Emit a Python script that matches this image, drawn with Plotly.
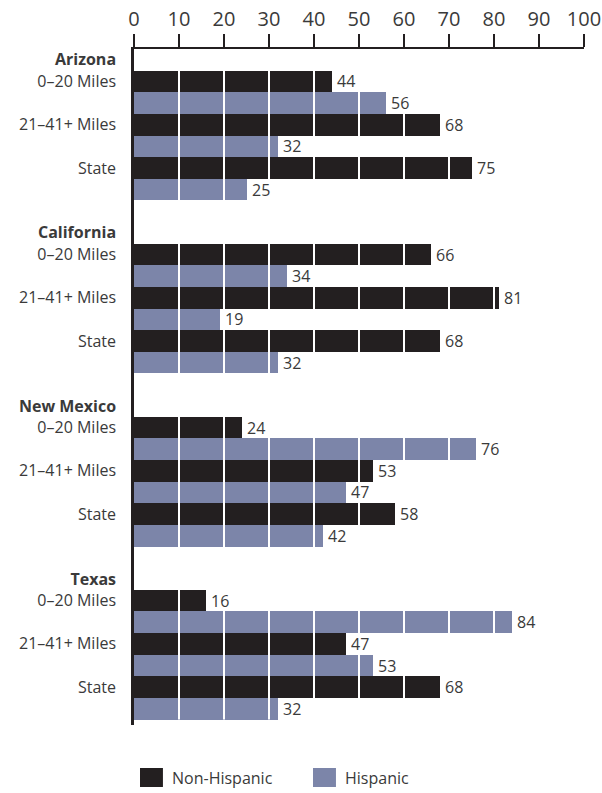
import plotly.graph_objects as go

# Survey shares (%) by state and distance from the border
states = ["Arizona", "California", "New Mexico", "Texas"]
rows = ["0–20 Miles", "21–41+ Miles", "State"]
non_hispanic = [44, 68, 75, 66, 81, 68, 24, 53, 58, 16, 47, 68]
hispanic = [56, 32, 25, 34, 19, 32, 76, 47, 42, 84, 53, 32]
x_ticks = [0, 10, 20, 30, 40, 50, 60, 70, 80, 90, 100]

NH_COLOR = "#231f20"
H_COLOR = "#7c85a9"
TEXT = "#3a3a3a"
FONT = "Open Sans"

# y positions: one slot for each state header, two bars per row, one blank slot between states
nh_pos, h_pos, tickvals, ticktext = [], [], [], []
for g, st in enumerate(states):
    base = 8 * g
    tickvals.append(base)
    ticktext.append(f"<b>{st}</b>")
    for r, lab in enumerate(rows):
        nh_pos.append(base + 1 + 2 * r)
        h_pos.append(base + 2 + 2 * r)
        tickvals.append(base + 1 + 2 * r)
        ticktext.append(lab)

fig = go.Figure()
fig.add_trace(go.Bar(x=non_hispanic, y=nh_pos, orientation="h", width=1,
                     marker=dict(color=NH_COLOR, line=dict(width=0)),
                     name="Non-Hispanic", showlegend=False, hoverinfo="x"))
fig.add_trace(go.Bar(x=hispanic, y=h_pos, orientation="h", width=1,
                     marker=dict(color=H_COLOR, line=dict(width=0)),
                     name="Hispanic", showlegend=False, hoverinfo="x"))

# white grid lines drawn over the bars
shapes = []
for t in x_ticks[1:-1]:
    shapes.append(dict(type="line", xref="x", yref="y", x0=t, x1=t,
                       y0=0.5, y1=30.5, layer="above",
                       line=dict(color="white", width=2)))

# value labels
annotations = []
for vals, pos in ((non_hispanic, nh_pos), (hispanic, h_pos)):
    for v, p in zip(vals, pos):
        annotations.append(dict(x=v, y=p, xref="x", yref="y", text=str(v),
                                showarrow=False, xanchor="left", xshift=3,
                                font=dict(family=FONT, size=16, color=TEXT)))

# legend below the chart
legend_items = [("Non-Hispanic", NH_COLOR, 0.0133), ("Hispanic", H_COLOR, 0.3978)]
for name, col, x0 in legend_items:
    shapes.append(dict(type="rect", xref="paper", yref="paper",
                       x0=x0, x1=x0 + 0.051, y0=-0.0917, y1=-0.0636,
                       fillcolor=col, line=dict(width=0), layer="above"))
    annotations.append(dict(x=x0 + 0.066, y=-0.0777, xref="paper", yref="paper",
                            text=name, showarrow=False, xanchor="left", yanchor="middle",
                            font=dict(family=FONT, size=16, color=TEXT)))

fig.update_layout(
    width=602, height=793,
    margin=dict(l=134, r=18, t=49, b=68),
    paper_bgcolor="white", plot_bgcolor="white",
    barmode="overlay", bargap=0,
    shapes=shapes, annotations=annotations,
    font=dict(family=FONT, color=TEXT),
    xaxis=dict(side="top", range=[0, 100], tickvals=x_ticks, automargin=False,
               ticks="outside", ticklen=13, tickwidth=1.5, tickcolor=NH_COLOR,
               showline=True, linewidth=2, linecolor=NH_COLOR,
               showgrid=False, zeroline=False,
               tickfont=dict(family=FONT, size=20, color=TEXT)),
    yaxis=dict(range=[30.75, -0.5], tickvals=tickvals, ticktext=ticktext,
               automargin=False,
               ticks="", showline=True, linewidth=2.5, linecolor=NH_COLOR,
               showgrid=False, zeroline=False, ticklabelstandoff=12,
               tickfont=dict(family=FONT, size=16, color=TEXT)),
)

fig.write_html("out.html")
